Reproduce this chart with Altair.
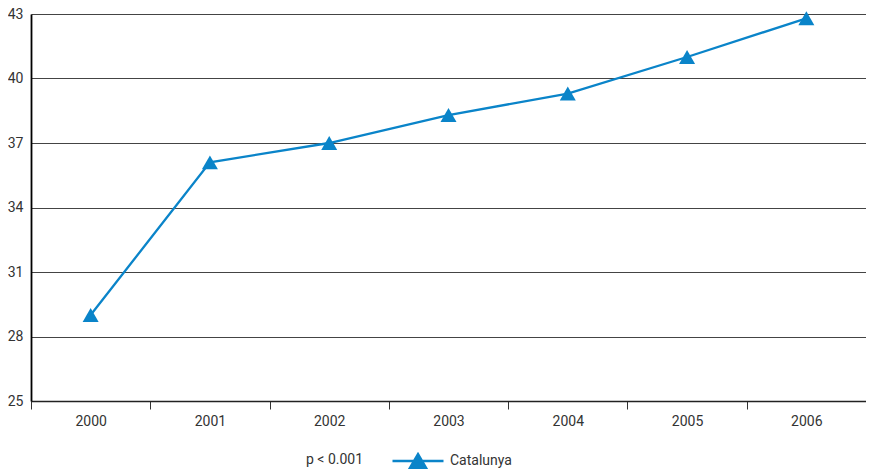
import altair as alt
import pandas as pd

years = ["2000", "2001", "2002", "2003", "2004", "2005", "2006"]
values = [29.0, 36.1, 37.0, 38.3, 39.3, 41.0, 42.8]
series = ["Catalunya"] * len(years)
y_ticks = [25, 28, 31, 34, 37, 40, 43]

df = pd.DataFrame({"year": years, "value": values, "series": series})

FONT = "Roboto, sans-serif"
FS = 14
BLUE = "#0a84c9"
TXT = "#333333"

legend_symbol = "M-1,0L1,0M0,-0.27L0.31,0.26L-0.31,0.26Z"

base = alt.Chart(df).encode(
    x=alt.X(
        "year:N",
        scale=alt.Scale(paddingInner=0, paddingOuter=0),
        axis=alt.Axis(
            title=None, labelAngle=0, tickBand="extent", ticks=True, tickSize=8,
            tickColor="#333", domainColor="#222", domainWidth=1.5, labelPadding=5,
            labelFont=FONT, labelFontSize=FS, labelColor=TXT, grid=False,
        ),
    ),
    y=alt.Y(
        "value:Q",
        scale=alt.Scale(domain=[25, 43], nice=False, zero=False),
        axis=alt.Axis(
            title=None, values=y_ticks, ticks=False, labelPadding=8,
            domainColor="#000", domainWidth=1.8, grid=True, gridColor="#444",
            gridWidth=1, labelFont=FONT, labelFontSize=FS, labelColor=TXT,
        ),
    ),
    color=alt.Color(
        "series:N",
        scale=alt.Scale(domain=["Catalunya"], range=[BLUE]),
        legend=alt.Legend(
            orient="none", legendX=275, legendY=420, direction="horizontal",
            title="p < 0.001", titleOrient="left", titleFont=FONT, titleFontSize=FS,
            titleFontWeight="normal", titleColor=TXT, titlePadding=27,
            titleAnchor="middle", titleBaseline="top",
            labelFont=FONT, labelFontSize=FS, labelColor=TXT, labelOffset=5,
            symbolType=legend_symbol, symbolSize=2601, symbolStrokeWidth=2.5,
            symbolFillColor=BLUE, symbolStrokeColor=BLUE, padding=0,
        ),
    ),
)

line = base.mark_line(strokeWidth=2.3)
pts = base.mark_point(shape="triangle-up", size=256, filled=True, opacity=1)

chart = (
    alt.layer(line, pts)
    .properties(
        width=835, height=387,
        autosize=alt.AutoSizeParams(type="none"),
        padding={"left": 23, "top": 6, "right": 0, "bottom": 72},
    )
    .configure_view(stroke=None)
    .configure(background="white")
)

chart.save("out.html", embed_options={"renderer": "svg", "actions": False})
